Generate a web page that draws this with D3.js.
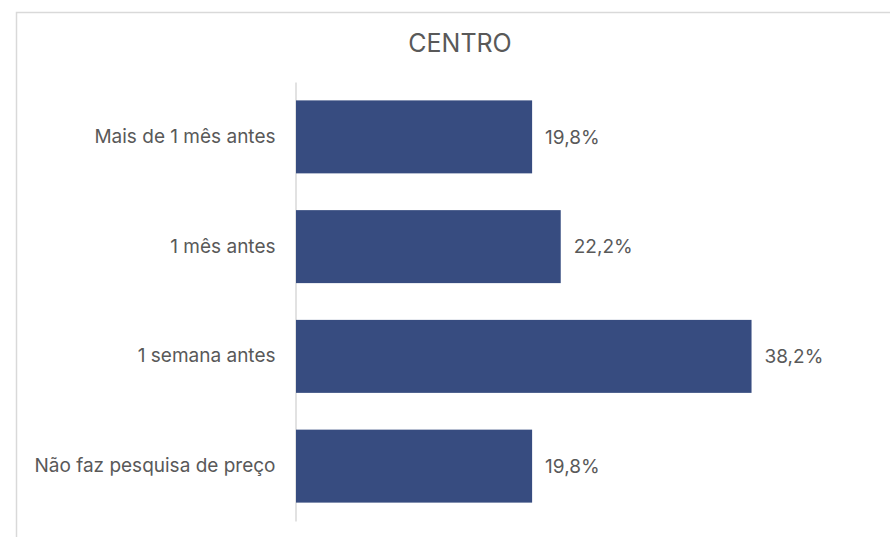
<!DOCTYPE html>
<html>
<head>
<meta charset="utf-8">
<script src="https://cdn.jsdelivr.net/npm/d3@7"></script>
<style>
  body { margin: 0; background: #fff; }
  svg { display: block; font-family: Inter, "Noto Sans", sans-serif; }
</style>
</head>
<body>
<div id="chart"></div>
<script>
const categories = ['Mais de 1 mês antes', '1 mês antes', '1 semana antes', 'Não faz pesquisa de preço'];
const values = [19.8, 22.2, 38.2, 19.8];
const title = 'CENTRO';

const width = 890;
const height = 537;

const svg = d3.select('#chart')
    .append('svg')
    .attr('width', width)
    .attr('height', height);

// chart area frame
svg.append('rect')
    .attr('x', 16.5)
    .attr('y', 12.5)
    .attr('width', 900)
    .attr('height', 600)
    .attr('fill', '#fff')
    .attr('stroke', '#d9d9d9')
    .attr('stroke-width', 1.5);

svg.append('text')
    .text(title)
    .attr('x', 460)
    .attr('y', 52)
    .attr('text-anchor', 'middle')
    .attr('font-size', 25)
    .attr('fill', '#595959');

const xScale = d3.scaleLinear()
    .domain([0, 40])
    .range([296, 773]);

const yScale = d3.scaleBand()
    .domain(categories)
    .range([82, 521])
    .paddingInner(0.335)
    .paddingOuter(0.1675);

const yAxis = d3.axisLeft(yScale).tickSize(0).tickPadding(20);

const axisG = svg.append('g')
    .attr('transform', 'translate(295.5,0)')
    .call(yAxis);

axisG.select('.domain')
    .attr('stroke', '#d9d9d9')
    .attr('stroke-width', 1.5);

axisG.selectAll('text')
    .attr('font-size', 19)
    .attr('font-family', 'Inter, "Noto Sans", sans-serif')
    .attr('fill', '#595959');

svg.selectAll('rect.bar')
    .data(values)
    .enter()
    .append('rect')
    .attr('class', 'bar')
    .attr('x', xScale(0))
    .attr('y', (d, i) => yScale(categories[i]))
    .attr('width', d => xScale(d) - xScale(0))
    .attr('height', yScale.bandwidth())
    .attr('fill', '#374c80');

svg.selectAll('text.value')
    .data(values)
    .enter()
    .append('text')
    .attr('class', 'value')
    .text(d => d.toFixed(1).replace('.', ',') + '%')
    .attr('x', d => xScale(d) + 13)
    .attr('y', (d, i) => yScale(categories[i]) + yScale.bandwidth() / 2)
    .attr('dy', '0.35em')
    .attr('font-size', 19)
    .attr('fill', '#595959');
</script>
</body>
</html>
